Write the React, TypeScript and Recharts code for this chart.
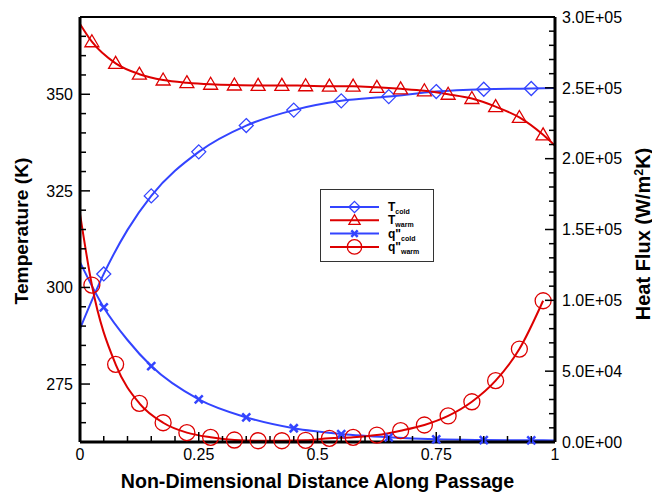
import React from 'react'
import { LineChart, Line, XAxis, YAxis, ReferenceLine, Customized } from 'recharts'

const blue = '#3344FF'
const red = '#DD0000'
const font = '"Liberation Sans", Arial, sans-serif'

// temperatures (K), left axis
const tColdX = [0, 0.05, 0.1, 0.15, 0.25, 0.35, 0.45, 0.55, 0.65, 0.75, 0.85, 0.95, 1]
const tColdV = [289.3, 303.5, 314.9, 323.7, 335.1, 341.9, 345.9, 348.3, 349.4, 350.7, 351.3, 351.5, 351.6]
const tColdMark = [false, true, false, true, true, true, true, true, true, true, true, true, false]

const tWarmX = [0, 0.025, 0.075, 0.125, 0.175, 0.225, 0.275, 0.325, 0.375, 0.425, 0.475, 0.525, 0.575, 0.625, 0.675, 0.725, 0.775, 0.825, 0.875, 0.925, 0.975, 1]
const tWarmV = [368.2, 363.6, 358.0, 355.2, 353.7, 353.0, 352.6, 352.4, 352.3, 352.3, 352.2, 352.1, 352.1, 351.8, 351.4, 350.9, 350.0, 348.9, 346.8, 344.0, 339.5, 336.7]
const tWarmMark = [false, true, true, true, true, true, true, true, true, true, true, true, true, true, true, true, true, true, true, true, true, false]

// heat flux (W/m2K), right axis
const qColdX = [0, 0.05, 0.1, 0.15, 0.25, 0.35, 0.45, 0.55, 0.65, 0.75, 0.85, 0.95, 1]
const qColdV = [127000, 95000, 72000, 53600, 30100, 17400, 9700, 5600, 3300, 1900, 1400, 1200, 1100]
const qColdMark = [false, true, false, true, true, true, true, true, true, true, true, true, false]

const qWarmX = [0, 0.025, 0.075, 0.125, 0.175, 0.225, 0.275, 0.325, 0.375, 0.425, 0.475, 0.525, 0.575, 0.625, 0.675, 0.725, 0.775, 0.825, 0.875, 0.925, 0.975]
const qWarmV = [161000, 110800, 54800, 27300, 13600, 6600, 3300, 1400, 900, 900, 1200, 2600, 3300, 4900, 8000, 12000, 18400, 28400, 43300, 65600, 99700]
const qWarmMark = [false, true, true, true, true, true, true, true, true, true, true, true, true, true, true, true, true, true, true, true, true]

// ticks
const xTicks = [0, 0.05, 0.1, 0.15, 0.2, 0.25, 0.3, 0.35, 0.4, 0.45, 0.5, 0.55, 0.6, 0.65, 0.7, 0.75, 0.8, 0.85, 0.9, 0.95, 1]
const xMajor = [0, 0.25, 0.5, 0.75, 1]
const xLabels = ['0', '0.25', '0.5', '0.75', '1']

const tTicks = [260, 265, 270, 275, 280, 285, 290, 295, 300, 305, 310, 315, 320, 325, 330, 335, 340, 345, 350, 355, 360, 365, 370]
const tMajor = [275, 300, 325, 350]
const tLabels = ['275', '300', '325', '350']

const qTicks = [0, 10000, 20000, 30000, 40000, 50000, 60000, 70000, 80000, 90000, 100000, 110000, 120000, 130000, 140000, 150000, 160000, 170000, 180000, 190000, 200000, 210000, 220000, 230000, 240000, 250000, 260000, 270000, 280000, 290000, 300000]
const qMajor = [0, 50000, 100000, 150000, 200000, 250000, 300000]
const qLabels = ['0.0E+00', '5.0E+04', '1.0E+05', '1.5E+05', '2.0E+05', '2.5E+05', '3.0E+05']

const legendMain = ['T', 'T', 'q"', 'q"']
const legendSub = ['cold', 'warm', 'cold', 'warm']
const legendShape = ['diamond', 'triangle', 'cross', 'circle']
const legendColor = [blue, red, blue, red]

const rows = (xs: number[], vs: number[], ms: boolean[]) =>
  xs.map((x, i) => ({ x, v: vs[i], m: ms[i] }))

const tColdRows = rows(tColdX, tColdV, tColdMark)
const tWarmRows = rows(tWarmX, tWarmV, tWarmMark)
const qColdRows = rows(qColdX, qColdV, qColdMark)
const qWarmRows = rows(qWarmX, qWarmV, qWarmMark)

const findMajor = (list: number[], v: number) => list.findIndex((m) => Math.abs(m - v) < 1e-9)

const Marker = ({ shape, x, y, color, s = 1 }: any) => {
  if (shape === 'diamond') {
    const d = 7 * s
    return <polygon points={`${x},${y - d} ${x + d},${y} ${x},${y + d} ${x - d},${y}`} fill="none" stroke={color} strokeWidth={1.3} />
  }
  if (shape === 'triangle') {
    const w = 7 * s
    return <polygon points={`${x},${y - 7 * s} ${x + w},${y + 5 * s} ${x - w},${y + 5 * s}`} fill="none" stroke={color} strokeWidth={1.3} />
  }
  if (shape === 'circle') {
    return <circle cx={x} cy={y} r={8 * s} fill="none" stroke={color} strokeWidth={1.3} />
  }
  const c = 4 * s
  return (
    <g stroke={color} strokeWidth={2.5}>
      <line x1={x - c} y1={y - c} x2={x + c} y2={y + c} />
      <line x1={x - c} y1={y + c} x2={x + c} y2={y - c} />
    </g>
  )
}

const makeDot = (shape: string, color: string) => (props: any) => {
  const { cx, cy, payload, index } = props
  if (!payload.m) return <g key={index} />
  return (
    <g key={index}>
      <Marker shape={shape} x={cx} y={cy} color={color} />
    </g>
  )
}

const XTick = (props: any) => {
  const { x, y, payload } = props
  const i = findMajor(xMajor, payload.value)
  return (
    <g>
      <line x1={x} x2={x} y1={y} y2={y - (i >= 0 ? 10 : 6)} stroke="#000" strokeWidth={1.5} />
      {i >= 0 && (
        <text x={x} y={y + 18} textAnchor="middle" fontSize={16} fontFamily={font} fill="#000">
          {xLabels[i]}
        </text>
      )}
    </g>
  )
}

const TTick = (props: any) => {
  const { x, y, payload } = props
  const i = findMajor(tMajor, payload.value)
  return (
    <g>
      <line x1={x} x2={x + (i >= 0 ? 10 : 6)} y1={y} y2={y} stroke="#000" strokeWidth={1.5} />
      {i >= 0 && (
        <text x={x - 7} y={y + 5.7} textAnchor="end" fontSize={16} fontFamily={font} fill="#000">
          {tLabels[i]}
        </text>
      )}
    </g>
  )
}

const QTick = (props: any) => {
  const { x, y, payload } = props
  const i = findMajor(qMajor, payload.value)
  return (
    <g>
      <line x1={x} x2={x - (i >= 0 ? 10 : 6)} y1={y} y2={y} stroke="#000" strokeWidth={1.5} />
      {i >= 0 && (
        <text x={x + 7} y={y + 5.7} textAnchor="start" fontSize={16} fontFamily={font} fill="#000">
          {qLabels[i]}
        </text>
      )}
    </g>
  )
}

const Titles = () => (
  <g fontFamily={font} fontWeight="bold" fill="#000">
    <text x={27.5} y={231} transform="rotate(-90 27.5 231)" textAnchor="middle" fontSize={19.2}>
      Temperature (K)
    </text>
    <text x={317.5} y={488} textAnchor="middle" fontSize={19.6}>
      Non-Dimensional Distance Along Passage
    </text>
    <text x={649.5} y={234} transform="rotate(-90 649.5 234)" textAnchor="middle" fontSize={20}>
      Heat Flux (W/m
      <tspan dy={-7} fontSize={12.5}>2</tspan>
      <tspan dy={7}>K)</tspan>
    </text>
  </g>
)

const LegendBox = () => (
  <g fontFamily={font} fontWeight="bold" fill="#000">
    <rect x={320.5} y={189.5} width={113} height={72} fill="#fff" stroke="#333" strokeWidth={1} />
    {legendMain.map((label, i) => {
      const y = 207 + i * 13.3
      return (
        <g key={i}>
          <line x1={330} x2={379} y1={y} y2={y} stroke={legendColor[i]} strokeWidth={2} />
          <Marker shape={legendShape[i]} x={354.5} y={y} color={legendColor[i]} s={legendShape[i] === 'circle' ? 0.9 : 0.8} />
          <text x={388} y={y + 4} fontSize={12}>
            {label}
            <tspan dy={3} fontSize={7}>{legendSub[i]}</tspan>
          </text>
        </g>
      )
    })}
  </g>
)

export default function App() {
  return (
    <div style={{ position: 'absolute', left: 0, top: 0, background: '#fff' }}>
      <LineChart width={652} height={496} margin={{ top: 17, right: 0, bottom: 0, left: 0 }}>
        <XAxis
          type="number"
          dataKey="x"
          domain={[0, 1]}
          ticks={xTicks}
          interval={0}
          tick={<XTick />}
          tickLine={false}
          tickSize={0}
          tickMargin={0}
          height={54}
          axisLine={{ stroke: '#000', strokeWidth: 3 }}
        />
        <YAxis
          yAxisId="T"
          orientation="left"
          type="number"
          domain={[260, 370]}
          ticks={tTicks}
          interval={0}
          tick={<TTick />}
          tickLine={false}
          tickSize={0}
          tickMargin={0}
          width={80}
          axisLine={{ stroke: '#000', strokeWidth: 3 }}
        />
        <YAxis
          yAxisId="q"
          orientation="right"
          type="number"
          domain={[0, 300000]}
          ticks={qTicks}
          interval={0}
          tick={<QTick />}
          tickLine={false}
          tickSize={0}
          tickMargin={0}
          width={97}
          axisLine={{ stroke: '#000', strokeWidth: 3 }}
        />
        <ReferenceLine yAxisId="T" y={370} stroke="#000" strokeWidth={2} />
        <Line yAxisId="T" data={tColdRows} dataKey="v" type="monotone" stroke={blue} strokeWidth={2} dot={makeDot('diamond', blue)} activeDot={false} isAnimationActive={false} />
        <Line yAxisId="T" data={tWarmRows} dataKey="v" type="monotone" stroke={red} strokeWidth={2} dot={makeDot('triangle', red)} activeDot={false} isAnimationActive={false} />
        <Line yAxisId="q" data={qColdRows} dataKey="v" type="monotone" stroke={blue} strokeWidth={2} dot={makeDot('cross', blue)} activeDot={false} isAnimationActive={false} />
        <Line yAxisId="q" data={qWarmRows} dataKey="v" type="monotone" stroke={red} strokeWidth={2} dot={makeDot('circle', red)} activeDot={false} isAnimationActive={false} />
        <Customized component={Titles} />
        <Customized component={LegendBox} />
      </LineChart>
    </div>
  )
}
